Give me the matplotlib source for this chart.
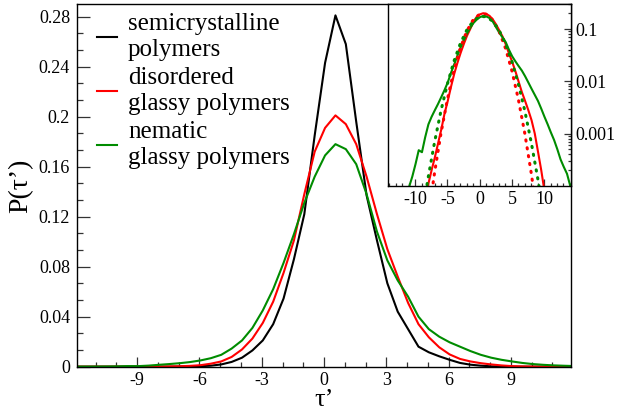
import numpy as np
import matplotlib
matplotlib.use('Agg')
import matplotlib.pyplot as plt
from matplotlib.ticker import MultipleLocator, FixedLocator, NullFormatter, LogLocator

plt.rcParams['font.family'] = ['Liberation Serif', 'DejaVu Serif']
plt.rcParams['axes.unicode_minus'] = False

# --- data: distribution of the rescaled variable tau' ---
tau = [-13.95, -13.45, -12.95, -12.45, -11.95, -11.45, -10.95, -10.45, -9.95, -9.45,
       -8.95, -8.45, -7.95, -7.45, -6.95, -6.45, -5.95, -5.45, -4.95, -4.45,
       -3.95, -3.45, -2.95, -2.45, -1.95, -1.45, -0.95, -0.45, 0.05, 0.55,
       1.05, 1.55, 2.05, 2.55, 3.05, 3.55, 4.05, 4.55, 5.05, 5.55,
       6.05, 6.55, 7.05, 7.55, 8.05, 8.55, 9.05, 9.55, 10.05, 10.55,
       11.05, 11.55, 12.05, 12.55, 13.05, 13.55, 14.05]

p_semicryst = [0, 0, 0, 0, 0, 0, 0, 0, 0, 0,
               0, 0, 0, 0, 0.0001, 0.0002, 0.0004, 0.0008, 0.0018, 0.0038,
               0.0072, 0.013, 0.021, 0.034, 0.0545, 0.086, 0.122, 0.185, 0.243, 0.281,
               0.258, 0.196, 0.137, 0.101, 0.0667, 0.044, 0.030, 0.016, 0.0115, 0.0083,
               0.0055, 0.0030, 0.0016, 0.0008, 0.0003, 0.0001, 0, 0, 0, 0,
               0, 0, 0, 0, 0, 0, 0]

p_disordered = [1e-6, 1e-6, 1e-6, 1e-6, 1e-6, 1e-6, 1e-6, 1e-6, 1e-6, 1e-6,
                2e-5, 5e-5, 1.1e-4, 2.0e-4, 3.5e-4, 6.5e-4, 1.2e-3, 2.4e-3, 4.2e-3, 7.8e-3,
                0.0138, 0.0225, 0.035, 0.052, 0.075, 0.101, 0.138, 0.172, 0.191, 0.201,
                0.194, 0.178, 0.152, 0.122, 0.094, 0.072, 0.051, 0.034, 0.0235, 0.0155,
                0.0098, 0.0062, 0.0042, 0.0028, 0.0018, 0.0010, 4.5e-4, 2.0e-4, 8e-5, 3e-5,
                1e-6, 1e-6, 1e-6, 1e-6, 1e-6, 1e-6, 1e-6]

p_nematic = [1.0e-5, 1.5e-5, 2.2e-5, 3.2e-5, 4.5e-5, 6.5e-5, 9.5e-5, 1.5e-4, 2.6e-4, 4.8e-4,
             4.4e-4, 8.5e-4, 1.5e-3, 2.1e-3, 2.8e-3, 3.7e-3, 5.0e-3, 6.8e-3, 9.5e-3, 0.0145,
             0.021, 0.031, 0.045, 0.062, 0.083, 0.106, 0.131, 0.152, 0.169, 0.178,
             0.174, 0.162, 0.138, 0.108, 0.085, 0.069, 0.056, 0.040, 0.030, 0.024,
             0.0195, 0.016, 0.0125, 0.0095, 0.0072, 0.0055, 0.0042, 0.0030, 0.0021, 0.0015,
             0.00105, 7.5e-4, 5.0e-4, 3.2e-4, 2.3e-4, 1.7e-4, 1.0e-4]

# gaussian fits shown dotted in the log inset
tau_fit_dis = [-9, -8, -7, -6, -5, -4, -3, -2, -1, 0, 1, 2, 3, 4, 5, 6, 7, 8, 9, 10]
fit_dis = [2.5e-6, 2.4e-5, 1.76e-4, 1.01e-3, 4.55e-3, 0.0159, 0.0431, 0.0914, 0.151, 0.193,
           0.193, 0.151, 0.0914, 0.0431, 0.0159, 4.55e-3, 1.01e-3, 1.76e-4, 2.4e-5, 2.5e-6]
tau_fit_nem = [-10, -9, -8, -7, -6, -5, -4, -3, -2, -1, 0, 1, 2, 3, 4, 5, 6, 7, 8, 9, 10, 11]
fit_nem = [3.3e-6, 2.4e-5, 1.41e-4, 6.8e-4, 2.74e-3, 8.9e-3, 0.024, 0.0528, 0.0956, 0.142, 0.173,
           0.173, 0.142, 0.0956, 0.0528, 0.024, 8.9e-3, 2.74e-3, 6.8e-4, 1.41e-4, 2.4e-5, 3.3e-6]

labels = ['semicrystalline\npolymers', 'disordered\nglassy polymers', 'nematic\nglassy polymers']
c_red = '#ff0000'
c_green = '#008c00'

fig = plt.figure(figsize=(6.27, 4.12), dpi=100)
ax = fig.add_axes([0.1228, 0.110, 0.788, 0.880])

ax.plot(tau, p_semicryst, color='black', lw=1.5, label=labels[0])
ax.plot(tau, p_disordered, color=c_red, lw=1.5, label=labels[1])
ax.plot(tau, p_nematic, color=c_green, lw=1.5, label=labels[2])

ax.set_xlim(-11.9, 11.9)
ax.set_ylim(0, 0.29)
ax.xaxis.set_major_locator(FixedLocator([-9, -6, -3, 0, 3, 6, 9]))
ax.xaxis.set_minor_locator(MultipleLocator(1))
ax.yaxis.set_major_locator(FixedLocator([0, 0.04, 0.08, 0.12, 0.16, 0.2, 0.24, 0.28]))
ax.yaxis.set_minor_locator(FixedLocator(np.arange(0, 0.29, 0.04 / 3)))
ax.set_yticklabels(['0', '0.04', '0.08', '0.12', '0.16', '0.2', '0.24', '0.28'])
ax.tick_params(which='both', direction='in', labelsize=13, width=0.9, color='#333333')
ax.tick_params(axis='y', which='major', length=9.5, pad=5)
ax.tick_params(axis='y', which='minor', length=4)
ax.tick_params(axis='x', which='major', length=7, pad=4)
ax.tick_params(axis='x', which='minor', length=3.5)
for s in ax.spines.values():
    s.set_linewidth(1.0)

ax.set_xlabel('τ’', fontsize=19, labelpad=0)
ax.set_ylabel('P(τ’)', fontsize=20, labelpad=4)

leg = ax.legend(loc='upper left', bbox_to_anchor=(0.04, 0.975), frameon=False,
                fontsize=18, handlelength=0.8, handletextpad=0.45,
                borderpad=0, borderaxespad=0, labelspacing=0.25)
for t in leg.get_texts():
    t.set_linespacing(1.22)

# log-scale inset with the tails
ins = fig.add_axes([0.619, 0.549, 0.292, 0.441])
ins.plot(tau, p_disordered, color=c_red, lw=1.5)
ins.plot(tau, p_nematic, color=c_green, lw=1.5)
ins.plot(tau_fit_dis, fit_dis, color=c_red, lw=2.2, ls=(0, (0.4, 2.2)), dash_capstyle='round')
ins.plot(tau_fit_nem, fit_nem, color=c_green, lw=2.2, ls=(0, (0.4, 2.2)), dash_capstyle='round')
ins.set_yscale('log')
ins.set_xlim(-14.2, 14.2)
ins.set_ylim(1e-4, 0.3)
ins.xaxis.set_major_locator(FixedLocator([-10, -5, 0, 5, 10]))
ins.xaxis.set_minor_locator(MultipleLocator(1))
ins.yaxis.set_major_locator(FixedLocator([0.001, 0.01, 0.1]))
ins.yaxis.set_minor_locator(LogLocator(base=10, subs=np.arange(2, 10)))
ins.yaxis.set_minor_formatter(NullFormatter())
ins.set_yticklabels(['0.001', '0.01', '0.1'])
ins.yaxis.tick_right()
ins.tick_params(which='both', direction='in', labelsize=13, width=0.9, color='#333333')
ins.tick_params(which='major', length=5)
ins.tick_params(which='minor', length=2.5)
ins.tick_params(axis='x', pad=4)
ins.tick_params(axis='y', pad=3)
for s in ins.spines.values():
    s.set_linewidth(1.0)

fig.savefig('out.png', dpi=100)
